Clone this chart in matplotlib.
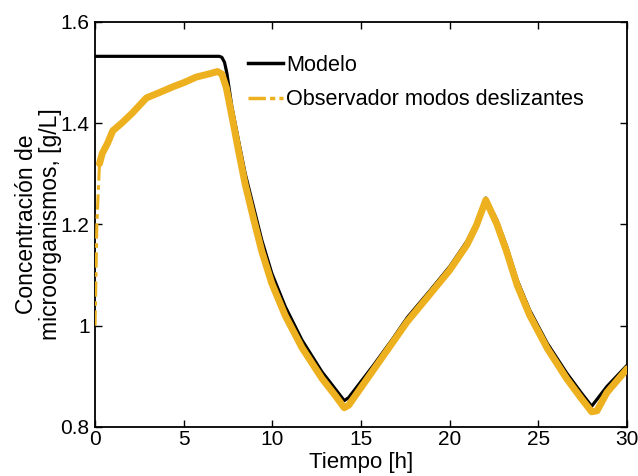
import matplotlib
matplotlib.use("Agg")
import matplotlib.pyplot as plt
from matplotlib.lines import Line2D

plt.rcParams['font.family'] = ['Liberation Sans', 'DejaVu Sans']

# Model trajectory (time [h], biomass [g/L])
t_model = [0.0, 7.0, 7.15, 7.3, 7.43, 7.71, 8.08, 8.46, 8.93, 9.40, 9.96, 10.72,
           11.66, 12.79, 13.5, 14.05, 14.3, 15.7, 16.8, 17.6, 18.9, 20.0, 20.97,
           21.5, 22.03, 22.65, 23.2, 23.8, 24.5, 25.5, 26.6, 27.4, 28.0, 28.86, 30.0]
x_model = [1.532, 1.532, 1.530, 1.520, 1.499, 1.433, 1.367, 1.301, 1.235, 1.169,
           1.104, 1.038, 0.972, 0.909, 0.877, 0.852, 0.858, 0.922, 0.975, 1.016,
           1.070, 1.117, 1.167, 1.204, 1.252, 1.209, 1.157, 1.090, 1.031, 0.965,
           0.906, 0.868, 0.841, 0.880, 0.922]

# Sliding-mode observer estimate
t_obs = [0.0, 0.1, 0.25, 0.4, 0.7, 1.0, 1.5, 2.1, 2.9, 3.6, 4.4, 5.0, 5.7, 6.5,
         6.9, 7.15, 7.4, 7.71, 8.08, 8.46, 8.93, 9.40, 9.96, 10.72, 11.66, 12.79,
         13.5, 14.05, 14.3, 15.7, 16.8, 17.6, 18.9, 20.0, 20.97, 21.5, 22.03,
         22.65, 23.2, 23.8, 24.5, 25.5, 26.6, 27.4, 28.0, 28.3, 28.86, 30.0]
x_obs = [1.0, 1.2, 1.32, 1.34, 1.36, 1.385, 1.40, 1.42, 1.45, 1.46, 1.472, 1.48,
         1.491, 1.498, 1.502, 1.497, 1.470, 1.415, 1.347, 1.280, 1.212, 1.147,
         1.084, 1.020, 0.957, 0.896, 0.864, 0.838, 0.843, 0.913, 0.968, 1.008,
         1.063, 1.110, 1.160, 1.198, 1.248, 1.201, 1.147, 1.080, 1.021, 0.955,
         0.895, 0.857, 0.830, 0.832, 0.868, 0.915]

x_ticks = [0, 5, 10, 15, 20, 25, 30]
y_ticks = [0.8, 1.0, 1.2, 1.4, 1.6]
y_tick_labels = ['0.8', '1', '1.2', '1.4', '1.6']

model_color = 'black'
obs_color = '#EDB120'

fig = plt.figure(figsize=(6.38, 4.76), dpi=100)
ax = fig.add_axes([0.149, 0.103, 0.834, 0.851])

ax.plot(t_model, x_model, color=model_color, lw=2.3, zorder=2,
        solid_joinstyle='round')
# initial transient of the observer (thin dash-dot) and the noisy band afterwards
ax.plot(t_obs[:4], x_obs[:4], color=obs_color, lw=2.2,
        ls=(0, (5, 1.5, 1.5, 1.5)), zorder=3)
ax.plot(t_obs[2:], x_obs[2:], color=obs_color, lw=5.0, solid_joinstyle='round',
        solid_capstyle='round', zorder=3)

ax.set_xlim(0, 30)
ax.set_ylim(0.8, 1.6)
ax.set_xticks(x_ticks)
ax.set_yticks(y_ticks)
ax.set_yticklabels(y_tick_labels)
ax.tick_params(direction='in', top=True, right=True, length=5, width=1.0,
               labelsize=15)
ax.tick_params(axis='y', pad=4)
ax.tick_params(axis='x', pad=2)
for s in ax.spines.values():
    s.set_linewidth(1.3)

ax.set_xlabel('Tiempo [h]', fontsize=16, labelpad=2)
ax.set_ylabel('Concentración de\nmicroorganismos, [g/L]', fontsize=16.5,
              labelpad=-1, linespacing=1.05)

handles = [Line2D([], [], color=model_color, lw=2.5),
           Line2D([], [], color=obs_color, lw=2.5, ls=(0, (5, 1.2, 1.5, 1.2)))]
ax.legend(handles, ['Modelo', 'Observador modos deslizantes'], loc='upper left',
          bbox_to_anchor=(0.272, 0.94), frameon=False, fontsize=15.6,
          handlelength=1.6, handletextpad=0.15, labelspacing=0.62,
          borderaxespad=0)

fig.savefig('out.png', dpi=100)
